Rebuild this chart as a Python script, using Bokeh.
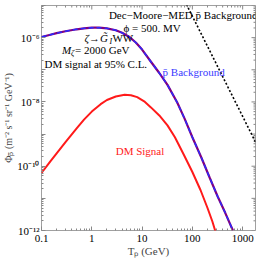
import math
from bokeh.plotting import figure
from bokeh.models import FixedTicker, CustomJSTickFormatter, Label, Range1d
from bokeh.embed import file_html
from bokeh.resources import INLINE

# ---- data (log10 of flux) ----
T_bg = [0.1, 0.15, 0.2, 0.3, 0.5, 0.7, 1.0, 1.4, 2.0, 3.0, 4.0, 5.5, 7.5, 10, 15, 22, 32, 50, 70, 100, 150, 220, 320, 450, 640]
logphi_bg = [-5.98, -5.91, -5.86, -5.80, -5.74, -5.71, -5.69, -5.69, -5.71, -5.77, -5.85, -5.97, -6.15, -6.37, -6.75, -7.10, -7.47, -8.02, -8.52, -9.10, -9.72, -10.35, -10.95, -11.45, -12.0]

T_sig = [0.1, 0.15, 0.2, 0.3, 0.5, 0.7, 1.0, 1.5, 2.0, 3.0, 4.5, 6.0, 8.0, 11, 15, 22, 32, 45, 68, 100, 145, 200, 250, 290]
logphi_sig = [-10.21, -9.85, -9.60, -9.25, -8.82, -8.55, -8.30, -8.07, -7.94, -7.83, -7.78, -7.79, -7.85, -7.98, -8.17, -8.42, -8.73, -9.10, -9.65, -10.18, -10.74, -11.30, -11.72, -12.05]

T_med = [70, 150, 300, 600, 1000, 1800]
logphi_med = [-4.85, -5.88, -6.82, -7.76, -8.45, -9.25]

x_major = [0.1, 1, 10, 100, 1000]
y_major = [1e-12, 1e-11, 1e-10, 1e-9, 1e-8, 1e-7, 1e-6, 1e-5]
X_MIN, X_MAX = 0.1, 1800
Y_MIN, Y_MAX = 1e-12, 1e-5

phi_bg = [10 ** v for v in logphi_bg]
phi_sig = [10 ** v for v in logphi_sig]
phi_med = [10 ** v for v in logphi_med]

x_minor = [m * 10.0 ** e for e in range(-1, 4) for m in range(2, 10) if m * 10.0 ** e < X_MAX]
y_minor = [m * 10.0 ** e for e in range(-12, -5) for m in range(2, 10)]

FONT = "Liberation Serif"
TICKC = "#888888"

p = figure(width=259, height=259, x_axis_type="log", y_axis_type="log",
           x_range=Range1d(X_MIN, X_MAX), y_range=Range1d(Y_MIN, Y_MAX),
           output_backend="svg", toolbar_location=None,
           min_border_left=30, min_border_top=5, min_border_right=4, min_border_bottom=10)
p.xgrid.visible = False
p.ygrid.visible = False
p.outline_line_color = "#a0a0a0"
p.outline_line_width = 1
p.background_fill_color = "white"
p.border_fill_color = "white"

xfmt = CustomJSTickFormatter(code="""
if (tick < 0.5) { return '0.1'; }
return String(Math.round(tick));
""")
yfmt = CustomJSTickFormatter(code="""
const e = Math.round(Math.log10(tick));
if (e % 2 != 0) { return ''; }
const sup = {'-':'\u207b','0':'\u2070','1':'\u00b9','2':'\u00b2','3':'\u00b3','4':'\u2074','5':'\u2075','6':'\u2076','7':'\u2077','8':'\u2078','9':'\u2079'};
return '10' + String(e).split('').map(c => sup[c]).join('');
""")

def style(ax):
    ax.axis_line_color = None
    ax.major_tick_in = 4
    ax.major_tick_out = 0
    ax.minor_tick_in = 2
    ax.minor_tick_out = 0
    ax.major_tick_line_color = TICKC
    ax.minor_tick_line_color = TICKC
    ax.major_label_text_font = FONT
    ax.major_label_text_font_size = "11px"
    ax.major_label_text_color = "black"

xa = p.xaxis[0]
style(xa)
xa.ticker = FixedTicker(ticks=x_major, minor_ticks=x_minor)
xa.formatter = xfmt
xa.major_label_standoff = 4
xa.axis_label = "T\u209a (GeV)"
xa.axis_label_text_font = FONT
xa.axis_label_text_font_style = "normal"
xa.axis_label_text_font_size = "11px"
xa.axis_label_standoff = 0

ya = p.yaxis[0]
style(ya)
ya.ticker = FixedTicker(ticks=y_major, minor_ticks=y_minor)
ya.formatter = yfmt
ya.major_label_standoff = 2
ya.axis_label = "\u03a6\u209a\u0304 (m\u207b\u00b2 s\u207b\u00b9 sr\u207b\u00b9 GeV\u207b\u00b9)"
ya.axis_label_text_font = FONT
ya.axis_label_text_font_style = "normal"
ya.axis_label_text_font_size = "10px"
ya.axis_label_standoff = 0

# ticks on the top and right frame edges (dash markers centred on the edge, half clipped)
p.scatter([X_MAX] * len(y_major), y_major, marker="dash", size=8, line_color=TICKC, line_width=1)
p.scatter([X_MAX] * len(y_minor), y_minor, marker="dash", size=4, line_color=TICKC, line_width=1)
p.scatter(x_major, [Y_MAX] * len(x_major), marker="dash", angle=math.pi / 2, size=8, line_color=TICKC, line_width=1)
p.scatter(x_minor, [Y_MAX] * len(x_minor), marker="dash", angle=math.pi / 2, size=4, line_color=TICKC, line_width=1)

# curves
p.line(T_bg, phi_bg, line_color="#800080", line_width=2.2)
p.line(T_bg, phi_bg, line_color="#2a2aff", line_width=1.4, line_dash="5 3")
p.line(T_sig, phi_sig, line_color="#ff1a1a", line_width=2)
p.line(T_med, phi_med, line_color="black", line_width=1.6, line_dash="2 2")

def lab(x, y, text, size="11px", color="black", align="left", style="normal", xo=0, yo=0):
    p.add_layout(Label(x=x, y=y, text=text, text_font=FONT, text_font_size=size,
                       text_color=color, text_align=align, text_baseline="middle",
                       text_font_style=style, x_offset=xo, y_offset=yo))

lab(2.19, 10 ** -5.286, "Dec\u2212Moore\u2212MED  p\u0304 Background")
lab(4.27, 10 ** -5.70, "\u03d5 = 500. MV")
# zeta -> G~_I WW
lab(0.715, 10 ** -6.016, "\u03b6\u2192G\u0303", style="italic")
lab(0.715, 10 ** -6.016, "I", size="8px", style="italic", xo=25, yo=-3)
lab(0.715, 10 ** -6.016, " WW", xo=28)
# M_zeta = 2000 GeV
lab(0.256, 10 ** -6.397, "M", style="italic")
lab(0.256, 10 ** -6.397, "\u03b6", size="8px", style="italic", xo=9, yo=-3)
lab(0.256, 10 ** -6.397, " = 2000 GeV", xo=13)
lab(1.2, 10 ** -6.81, "DM signal at 95% C.L.", align="center")
lab(25.6, 10 ** -7.063, "p\u0304 Background", color="#3a3aff")
lab(2.99, 10 ** -9.54, "DM Signal", color="#ff2020")

open("out.html", "w").write(file_html(p, INLINE))
